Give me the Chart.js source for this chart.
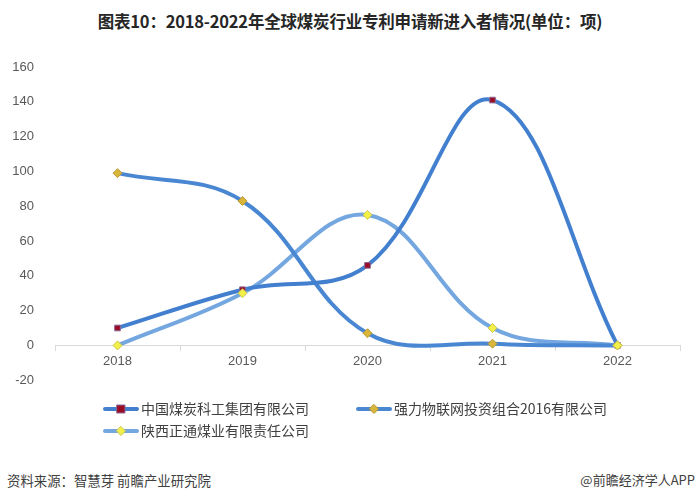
<!DOCTYPE html>
<html><head><meta charset="utf-8">
<script src="https://cdn.jsdelivr.net/npm/chart.js@4/dist/chart.umd.min.js"></script>
<style>
html,body{margin:0;padding:0;background:#fff;}
#wrap{position:relative;width:700px;height:500px;overflow:hidden;font-family:"Noto Sans CJK SC","Liberation Sans",sans-serif;}
#title{position:absolute;left:0;top:9px;width:700px;text-align:center;font-size:16.5px;font-weight:bold;color:#262626;letter-spacing:-0.2px;}
#cv{position:absolute;left:0;top:0;}
.leg{position:absolute;font-size:14px;color:#404040;height:16px;line-height:16px;white-space:nowrap;}
.leg canvas{vertical-align:middle;margin-right:2px;position:relative;top:-1px;}
#src{position:absolute;left:7px;top:470px;font-size:13.4px;color:#404040;}
#app{position:absolute;right:5px;top:470px;font-size:13px;color:#404040;}
</style></head>
<body><div id="wrap">
<div id="title">图表10：2018-2022年全球煤炭行业专利申请新进入者情况(单位：项)</div>
<canvas id="cv" width="700" height="401"></canvas>
<div id="legend"></div>
<div id="src">资料来源：智慧芽 前瞻产业研究院</div>
<div id="app">@前瞻经济学人APP</div>
</div>
<script>
const categories = ['2018','2019','2020','2021','2022'];
const seriesNames = ['中国煤炭科工集团有限公司','强力物联网投资组合2016有限公司','陕西正通煤业有限责任公司'];
const ccteg = [10, 32, 46, 141, 0];
const qiangli = [99, 83, 7, 1, 0];
const shaanxi = [0, 30, 75, 10, 0];
const yTicks = [-20, 0, 20, 40, 60, 80, 100, 120, 140, 160];

const styles = [
  {line:'#4280cf', fill:'#9a0b24', border:'#8a6a9a', shape:'rect', r:4},
  {line:'#4a87d3', fill:'#d8b63a', border:'#b8983a', shape:'rectRot', r:4.5},
  {line:'#74a6df', fill:'#f3f04a', border:'#c9c650', shape:'rectRot', r:4.5}
];
const dataArr = [ccteg, qiangli, shaanxi];

// lines (series 1 on top of later series)
const lineSets = dataArr.map((d,i)=>({
  label: seriesNames[i],
  data: d,
  borderColor: styles[i].line,
  borderWidth: 4,
  tension: 0.38,
  pointRadius: 0,
  fill: false,
  clip: false,
  order: 10 + i
}));
// markers drawn above all lines (later series on top)
const markerSets = dataArr.map((d,i)=>({
  label: seriesNames[i] + ' markers',
  data: d,
  showLine: false,
  pointStyle: styles[i].shape,
  pointRadius: styles[i].r,
  pointBackgroundColor: styles[i].fill,
  pointBorderColor: styles[i].border,
  pointBorderWidth: 1,
  clip: false,
  order: 2 - i
}));

new Chart(document.getElementById('cv'), {
  type: 'line',
  data: {labels: categories, datasets: lineSets.concat(markerSets)},
  options: {
    responsive: false,
    animation: false,
    layout: {padding: {top: 67, right: 20, bottom: 1, left: 0}},
    plugins: {legend: {display: false}, tooltip: {enabled: false}},
    scales: {
      x: {
        position: {y: 0},
        offset: true,
        grid: {offset: true, drawOnChartArea: false, drawTicks: true, tickLength: 5, color: '#d9d9d9'},
        border: {color: '#d9d9d9', width: 1},
        ticks: {color: '#595959', font: {family: 'Liberation Sans', size: 13}, padding: 3}
      },
      y: {
        min: -20, max: 160,
        afterBuildTicks: s => { s.ticks = yTicks.map(v => ({value: v})); },
        afterFit: s => { s.width = 55; },
        grid: {display: false},
        border: {display: false},
        ticks: {color: '#595959', font: {family: 'Liberation Sans', size: 13}, padding: 13}
      }
    }
  }
});

// legend
const legPos = [[103, 400], [356, 400], [103, 422]];
const legDiv = document.getElementById('legend');
seriesNames.forEach((n,i)=>{
  const d = document.createElement('div');
  d.className = 'leg';
  d.style.left = legPos[i][0] + 'px';
  d.style.top = legPos[i][1] + 'px';
  const c = document.createElement('canvas');
  c.width = 36; c.height = 12;
  const g = c.getContext('2d');
  g.strokeStyle = styles[i].line; g.lineWidth = 4; g.lineCap = 'round';
  g.beginPath(); g.moveTo(2,6); g.lineTo(34,6); g.stroke();
  g.fillStyle = styles[i].fill; g.strokeStyle = styles[i].border; g.lineWidth = 1;
  g.beginPath();
  if (styles[i].shape === 'rect') { g.rect(14,2,8,8); }
  else { g.moveTo(18,1.5); g.lineTo(22.5,6); g.lineTo(18,10.5); g.lineTo(13.5,6); g.closePath(); }
  g.fill(); g.stroke();
  d.appendChild(c);
  d.appendChild(document.createTextNode(n));
  legDiv.appendChild(d);
});
</script>
</body></html>
